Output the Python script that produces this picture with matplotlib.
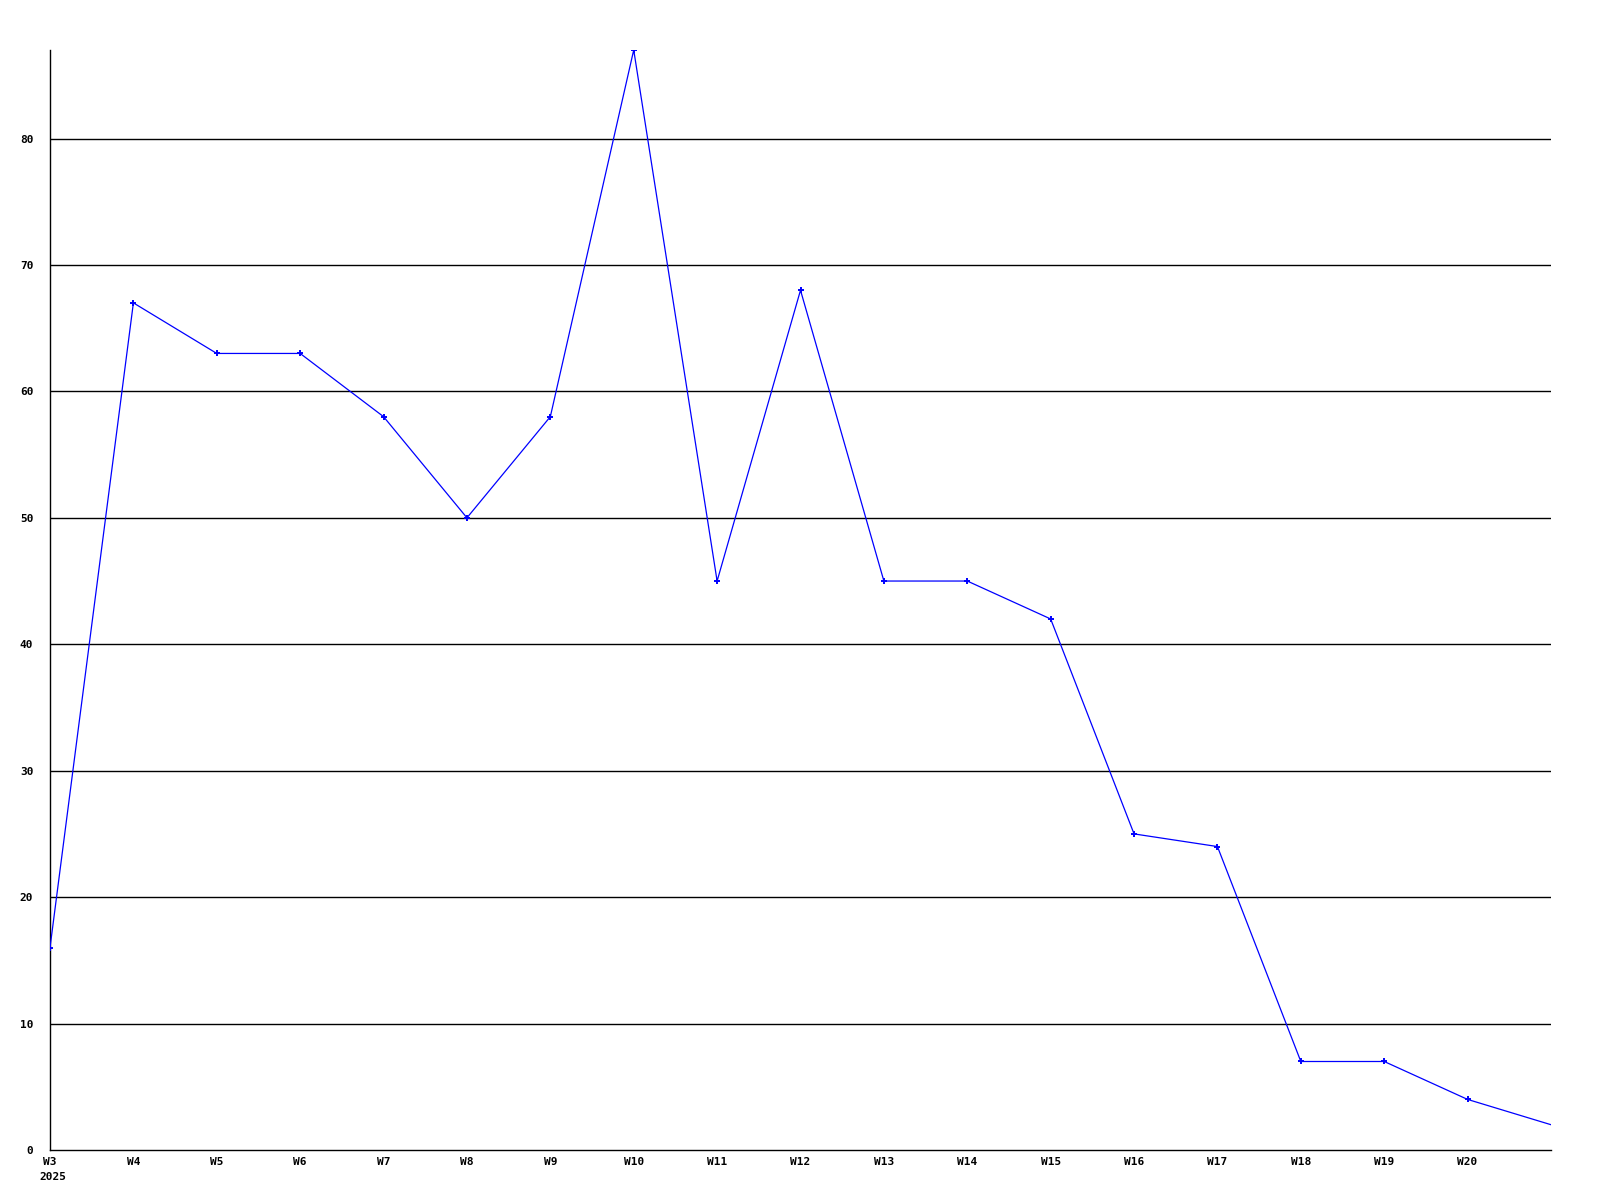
import matplotlib
matplotlib.use("Agg")
import matplotlib.pyplot as plt

# 每周数据（W3 - W21）
weeks = ["W3", "W4", "W5", "W6", "W7", "W8", "W9", "W10", "W11", "W12",
         "W13", "W14", "W15", "W16", "W17", "W18", "W19", "W20", "W21"]
values = [16, 67, 63, 63, 58, 50, 58, 87, 45, 68,
          45, 45, 42, 25, 24, 7, 7, 4, 2]
y_ticks = [0, 10, 20, 30, 40, 50, 60, 70, 80]
year_label = "2025"

fig = plt.figure(figsize=(16, 12), dpi=100)
ax = fig.add_axes([50 / 1600, 50 / 1200, 1501 / 1600, 1100 / 1200])

x = list(range(len(weeks)))
# 最后一个点（W21）在参考图中没有标记
ax.plot(x, values, color="#0000ff", linewidth=0.9, marker="+", markersize=4,
        markeredgewidth=1.4, markevery=list(range(len(weeks) - 1)), zorder=3)

ax.set_xlim(0, len(weeks) - 1)
ax.set_ylim(0, 87)

# 横向网格线
for v in y_ticks[1:]:
    ax.axhline(v, color="black", linewidth=1.0, zorder=1)

for side in ["top", "right"]:
    ax.spines[side].set_visible(False)
ax.spines["left"].set_linewidth(1.0)
ax.spines["bottom"].set_linewidth(1.0)

font = dict(family="DejaVu Sans Mono", fontweight="bold", fontsize=8)
ax.set_yticks(y_ticks)
ax.set_yticklabels([str(v) for v in y_ticks], **font)
ax.set_xticks(x[:-1])
ax.set_xticklabels(weeks[:-1], **font)
ax.tick_params(axis="x", length=0, pad=5)
ax.tick_params(axis="y", length=0, pad=12)

ax.text(-0.13, -0.02, year_label, transform=ax.get_xaxis_transform(),
        ha="left", va="top", **font)

fig.savefig("out.png", dpi=100, facecolor="white")
